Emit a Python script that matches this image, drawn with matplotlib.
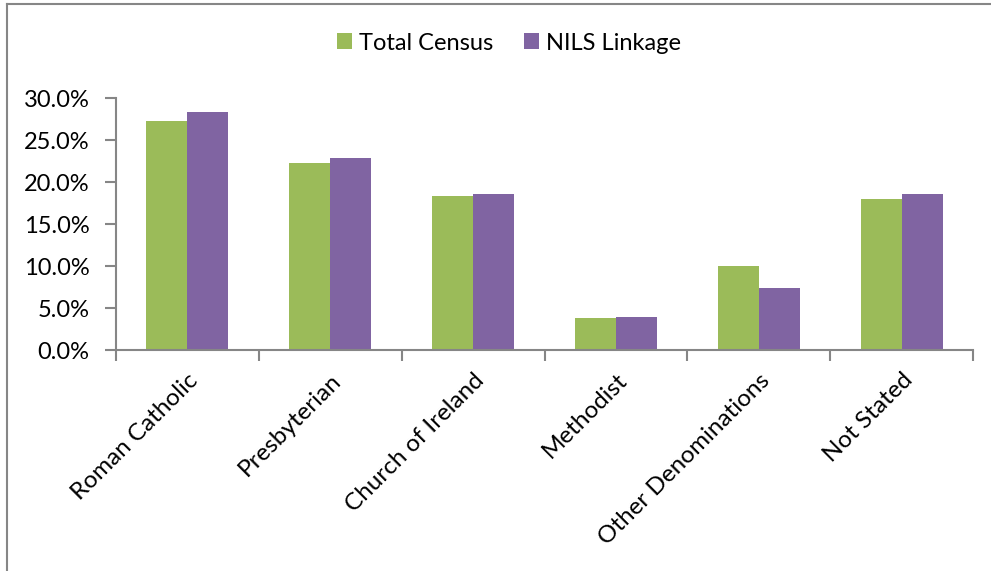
import numpy as np
import matplotlib.pyplot as plt
from matplotlib.lines import Line2D
from matplotlib.ticker import FuncFormatter

plt.rcParams['font.family'] = ['Lato', 'DejaVu Sans']

## Data
categories = ["Roman Catholic", "Presbyterian", "Church of Ireland",
              "Methodist", "Other Denominations", "Not Stated"]
total_census = [27.3, 22.3, 18.4, 3.8, 10.0, 17.95]
nils_linkage = [28.4, 22.9, 18.55, 3.9, 7.4, 18.6]
series_names = ["Total Census", "NILS Linkage"]

green = "#9bbb59"
purple = "#8064a2"
axis_grey = "#868686"

fig = plt.figure(figsize=(9.91, 5.71), dpi=100, facecolor="white")
ax = fig.add_axes([0.117, 0.387, 0.865, 0.441])

x = np.arange(len(categories))
w = 0.287
ax.bar(x - w/2, total_census, width=w, color=green, label=series_names[0])
ax.bar(x + w/2, nils_linkage, width=w, color=purple, label=series_names[1])

ax.set_xlim(-0.5, len(categories) - 0.5)
ax.set_ylim(0, 30)
ax.set_yticks(np.arange(0, 30.1, 5))
ax.yaxis.set_major_formatter(FuncFormatter(lambda v, p: "{:.1f}%".format(v)))
ax.set_xticks(np.arange(-0.5, len(categories), 1.0))
ax.set_xticklabels([])
ax.set_xticks(x, minor=True)
ax.set_xticklabels(categories, minor=True, rotation=45, ha="right",
                   rotation_mode="anchor", fontsize=17.5)
ax.tick_params(axis="x", which="minor", length=0, pad=14)
ax.tick_params(axis="x", which="major", direction="out", length=8,
               width=1.5, color=axis_grey)
ax.tick_params(axis="y", direction="out", length=8, width=1.5,
               color=axis_grey, labelsize=17, pad=11)

for s in ["top", "right"]:
  ax.spines[s].set_visible(False)
for s in ["left", "bottom"]:
  ax.spines[s].set_color(axis_grey)
  ax.spines[s].set_linewidth(1.5)

ax.legend(loc="center", bbox_to_anchor=(509/991, 1-43/571),
          bbox_transform=fig.transFigure, ncol=2, frameon=False,
          fontsize=17, handlelength=0.65, handleheight=0.65,
          handletextpad=0.3, columnspacing=1.3)

# outer chart border (top and left edges visible)
fig.add_artist(Line2D([7/991, 7/991], [0, 1-4/571], color=axis_grey, lw=1.5))
fig.add_artist(Line2D([7/991, 1], [1-4/571, 1-4/571], color=axis_grey, lw=1.5))

plt.savefig("out.png", dpi=100, facecolor="white")
